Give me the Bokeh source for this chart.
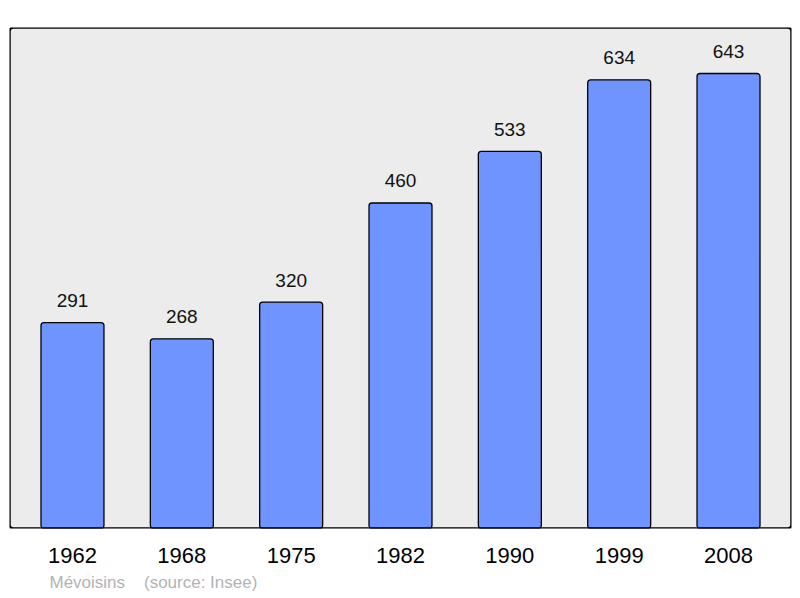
from bokeh.plotting import figure
from bokeh.models import FactorRange, Range1d, Title, ColumnDataSource, BoxAnnotation
from bokeh.embed import file_html
from bokeh.resources import INLINE
from bokeh.core.properties import value

years = ["1962", "1968", "1975", "1982", "1990", "1999", "2008"]
population = [291, 268, 320, 460, 533, 634, 643]
place = "Mévoisins"
source_note = "(source: Insee)"

src = ColumnDataSource(dict(x=years, y=population, label=[str(v) for v in population]))

p = figure(
    width=800, height=598,
    x_range=FactorRange(factors=years, range_padding=0.076, range_padding_units="absolute"),
    y_range=Range1d(0, 708),
    output_backend="svg", toolbar_location=None,
    y_axis_location=None,
    min_border_left=9, min_border_right=9, min_border_top=27, min_border_bottom=70,
)
p.background_fill_color = "#ececec"
p.border_fill_color = "white"
p.outline_line_color = None
p.xgrid.visible = False
p.ygrid.visible = False

p.add_layout(BoxAnnotation(fill_color=None, fill_alpha=0, line_color="black", line_alpha=1.0,
                           line_width=2.5, border_radius=4, level="overlay"))

p.vbar(x="x", top="y", width=0.576, source=src, fill_color="#7094ff",
       line_color="black", line_width=1.3, border_radius=3)

p.text(x="x", y="y", text="label", source=src, y_offset=-22,
       text_align="center", text_baseline="middle", text_font=value("Liberation Sans"),
       text_font_size="19px", text_color="#111111")

ax = p.xaxis[0]
ax.axis_line_color = None
ax.major_tick_line_color = None
ax.minor_tick_line_color = None
ax.major_tick_in = 0
ax.major_tick_out = 0
ax.major_label_standoff = 19
ax.major_label_text_font = "Liberation Sans"
ax.major_label_text_font_size = "22px"
ax.major_label_text_color = "black"

footer = Title(text=place + "\u00a0\u00a0\u00a0 " + source_note, align="left", offset=40,
               text_font="Liberation Sans", text_font_size="17px",
               text_font_style="normal", text_color="#b3b3b3", standoff=11)
p.add_layout(footer, "below")

open("out.html", "w").write(file_html(p, INLINE))
